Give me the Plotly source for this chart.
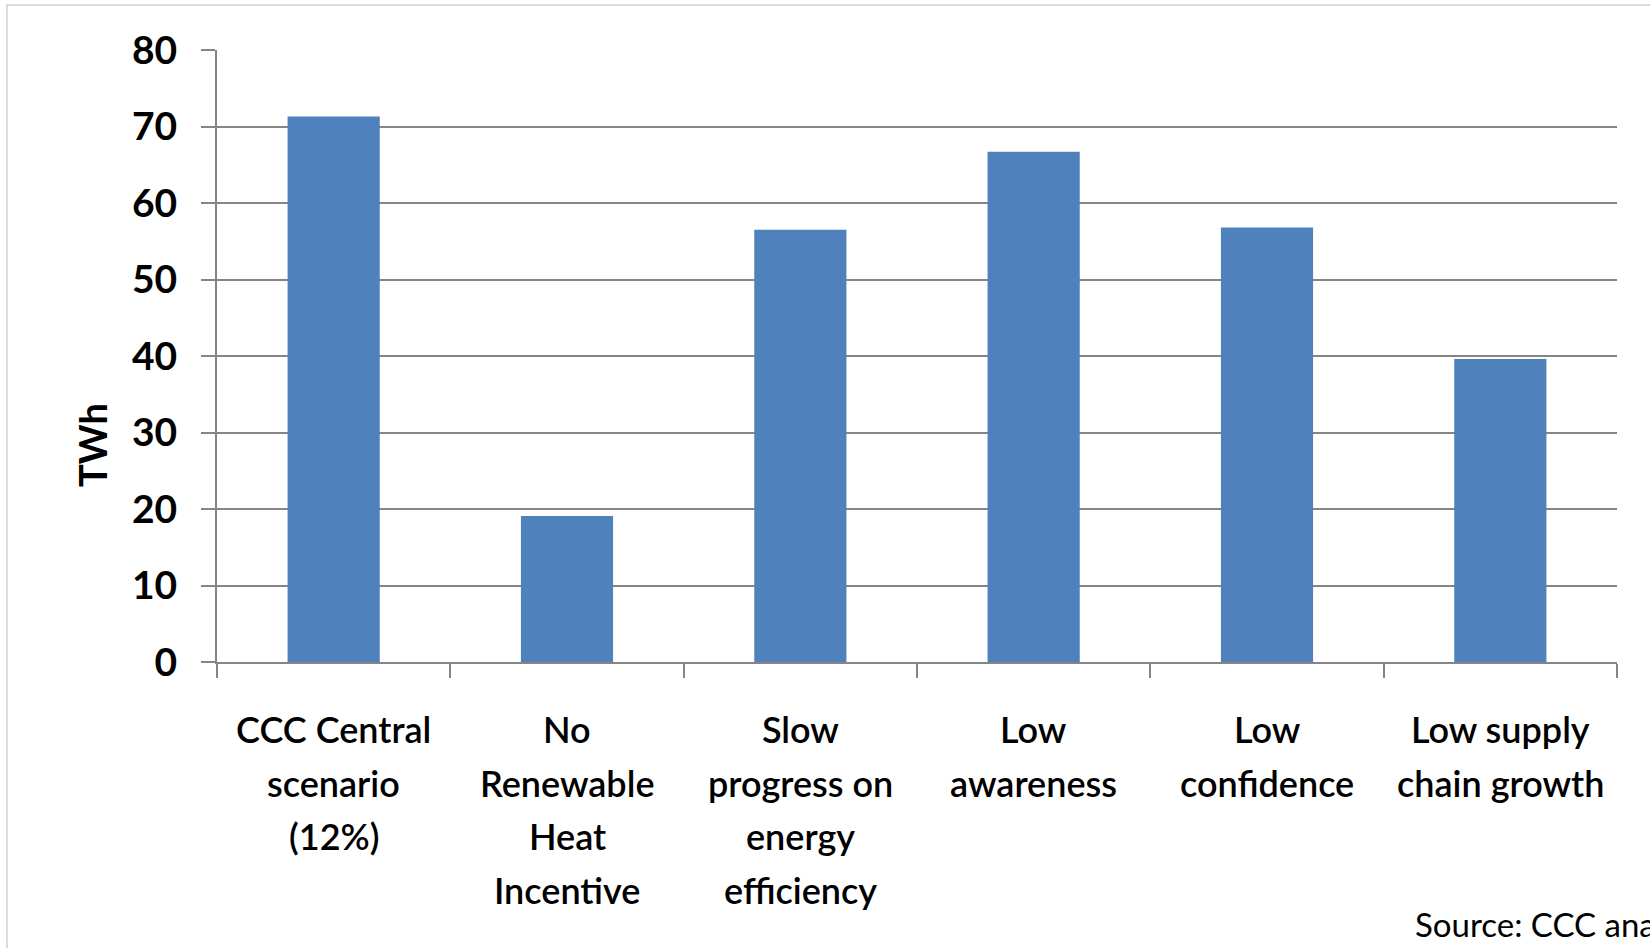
import plotly.graph_objects as go

categories = ["CCC Central scenario (12%)", "No Renewable Heat Incentive",
              "Slow progress on energy efficiency", "Low awareness",
              "Low confidence", "Low supply chain growth"]
label_lines = [["CCC Central", "scenario", "(12%)"],
               ["No", "Renewable", "Heat", "Incentive"],
               ["Slow", "progress on", "energy", "efficiency"],
               ["Low", "awareness"],
               ["Low", "confidence"],
               ["Low supply", "chain growth"]]
values = [71.3, 19.1, 56.5, 66.7, 56.8, 39.6]
y_ticks = [0, 10, 20, 30, 40, 50, 60, 70, 80]
y_title = "TWh"
source = "Source: CCC analysis"

W, H = 1650, 948
L, R, T, B = 217, 33, 50, 286
pw, ph = W - L - R, H - T - B
GRID = "#858585"
FONT = "Lato"

def px_x(x):
    return (x - L) / pw

def px_y(y):
    return (H - B - y) / ph

fig = go.Figure(go.Bar(x=categories, y=values, marker_color="#4F81BD",
                       marker_line_width=0, width=0.395))

annotations = []
line_pitch = 53.5
first_center = 729
for cat, lines in zip(categories, label_lines):
    for i, txt in enumerate(lines):
        annotations.append(dict(
            x=cat, xref="x", y=0, yref="paper", text=txt, showarrow=False,
            xanchor="center", yanchor="middle",
            yshift=-((first_center + i * line_pitch) - (H - B)),
            font=dict(family=FONT, size=36, color="#000000", weight=600)))

annotations.append(dict(
    x=px_x(92), xref="paper", y=px_y(445), yref="paper", text=y_title,
    textangle=-90, showarrow=False, xanchor="center", yanchor="middle",
    font=dict(family=FONT, size=38, color="#000000", weight="bold")))

annotations.append(dict(
    x=px_x(1413), xref="paper", y=0, yref="paper", text=source,
    showarrow=False, xanchor="left", yanchor="middle",
    yshift=-(924 - (H - B)),
    font=dict(family=FONT, size=33, color="#000000")))

fig.update_layout(
    width=W, height=H,
    margin=dict(l=L, r=R, t=T, b=B, pad=0),
    paper_bgcolor="white", plot_bgcolor="white",
    showlegend=False,
    annotations=annotations,
    shapes=[dict(type="rect", xref="paper", yref="paper",
                 x0=px_x(7), x1=px_x(1665), y0=px_y(965), y1=px_y(5),
                 line=dict(color="#d0d0d0", width=1.5), layer="below")],
    xaxis=dict(type="category", showgrid=False, showticklabels=False,
               ticks="outside", tickson="boundaries", ticklen=14,
               tickwidth=2, tickcolor=GRID, showline=True,
               linecolor=GRID, linewidth=2, zeroline=False),
    yaxis=dict(range=[0, 80], tickvals=y_ticks, showgrid=True,
               gridcolor=GRID, gridwidth=2, ticks="outside", ticklen=14,
               tickwidth=2, tickcolor=GRID, showline=True, linecolor=GRID,
               linewidth=2, zeroline=False, ticklabelstandoff=16,
               tickfont=dict(family=FONT, size=39, color="#000000",
                             weight="bold")),
)

fig.write_html("out.html")
